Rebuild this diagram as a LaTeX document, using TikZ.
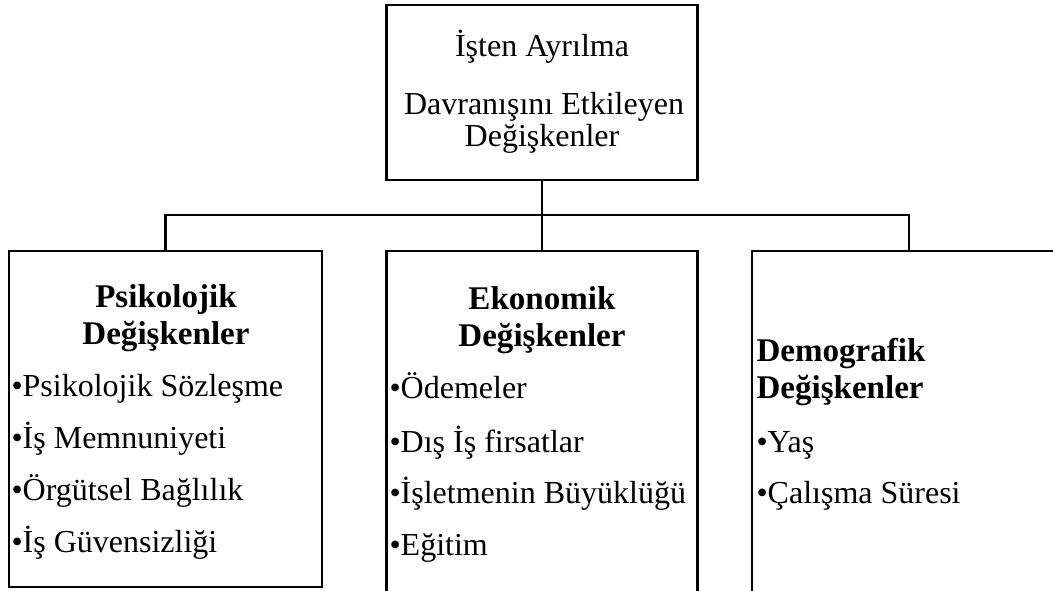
\documentclass[tikz,border=0pt]{standalone}
\usepackage{fontspec}
\setmainfont{Liberation Serif}
\newfontfamily\timesfont{Liberation Serif}
\usepackage{tikz}
\tikzset{every picture/.style={line width=0.75pt}}
\tikzset{
  box/.style={draw, line width=2.2pt, inner sep=0pt, outer sep=0pt},
  link/.style={line width=1.8pt},
  txt/.style={inner sep=0pt, font=\timesfont\fontsize{24}{28}\selectfont},
  head/.style={inner sep=0pt, font=\timesfont\fontsize{24.8}{28}\selectfont\bfseries},
}

\begin{document}
\begin{tikzpicture}[x=0.75pt,y=0.75pt,yscale=-1,xscale=1]
\useasboundingbox (0,0) rectangle (1053,591);
\clip (0,0) rectangle (1053,591);

%Shape: Rectangle [top]
\node [box, minimum width=233.25pt, minimum height=131.25pt] (top) at (542,92.5) {};
%Shape: Rectangle [psychological]
\node [box, minimum width=234.75pt, minimum height=252pt] (psy) at (165.5,419) {};
%Shape: Rectangle [economic]
\node [box, minimum width=233.25pt, minimum height=291.75pt] (eko) at (542,445.5) {};
%Shape: Rectangle [demographic]
\node [box, minimum width=235.5pt, minimum height=291.75pt] (dem) at (909,445.5) {};

%Straight Lines [bus]
\coordinate (bus) at (542,215);
\draw [link] (top.south) -- (eko.north);
\draw [link] (psy.north) |- (bus) -| (dem.north);

% Text Node
\node [txt, anchor=base] (t1) at (542,57) {İşten Ayrılma};
% Text Node
\node [txt, anchor=base] (t2) at (544,115) {Davranışını Etkileyen};
% Text Node
\node [txt, anchor=base] (t3) at (542,147) {Değişkenler};

% Text Node
\node [head, anchor=base] (p0) at (166,308) {Psikolojik};
% Text Node
\node [head, anchor=base] (p1) at (166,345) {Değişkenler};
% Text Node
\node [txt, anchor=base west] (p2) at (11,397) {•Psikolojik Sözleşme};
% Text Node
\node [txt, anchor=base west] (p3) at (11,448) {•İş Memnuniyeti};
% Text Node
\node [txt, anchor=base west] (p4) at (11,500) {•Örgütsel Bağlılık};
% Text Node
\node [txt, anchor=base west] (p5) at (11,552) {•İş Güvensizliği};

% Text Node
\node [head, anchor=base] (e0) at (542,310) {Ekonomik};
% Text Node
\node [head, anchor=base] (e1) at (542,347) {Değişkenler};
% Text Node
\node [txt, anchor=base west] (e2) at (389,398) {•Ödemeler};
% Text Node
\node [txt, anchor=base west] (e3) at (389,452) {•Dış İş firsatlar};
% Text Node
\node [txt, anchor=base west] (e4) at (389,503) {•İşletmenin Büyüklüğü};
% Text Node
\node [txt, anchor=base west] (e5) at (389,555) {•Eğitim};

% Text Node
\node [head, anchor=base west] (d0) at (756,362) {Demografik};
% Text Node
\node [head, anchor=base west] (d1) at (756,398) {Değişkenler};
% Text Node
\node [txt, anchor=base west] (d2) at (756,452) {•Yaş};
% Text Node
\node [txt, anchor=base west] (d3) at (756,503) {•Çalışma Süresi};

\end{tikzpicture}
\end{document}
